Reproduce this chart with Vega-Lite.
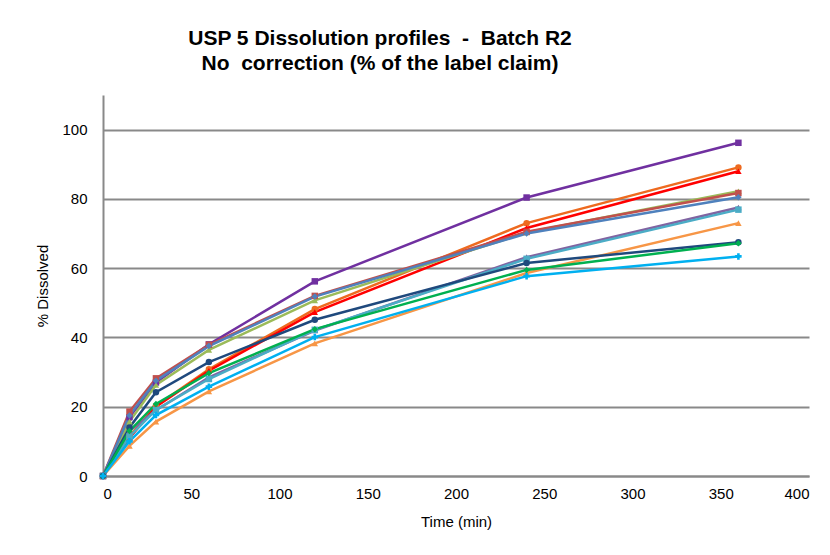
{
  "$schema": "https://vega.github.io/schema/vega-lite/v6.json",
  "width": 706,
  "height": 381,
  "autosize": "none",
  "padding": {"left": 103, "top": 95, "right": 21, "bottom": 79},
  "background": "white",
  "title": {
    "text": ["USP 5 Dissolution profiles \u00a0-\u00a0 Batch R2", "No \u00a0correction (% of the label claim)"],
    "font": "Liberation Sans",
    "fontSize": 21,
    "fontWeight": "bold",
    "color": "#000000",
    "lineHeight": 25,
    "anchor": "middle",
    "dx": -76,
    "offset": 21
  },
  "datasets": {
    "profiles": [
      {"s": "A", "t": 0, "v": 0}, {"s": "A", "t": 15, "v": 17}, {"s": "A", "t": 30, "v": 27}, {"s": "A", "t": 60, "v": 38}, {"s": "A", "t": 120, "v": 56.2}, {"s": "A", "t": 240, "v": 80.4}, {"s": "A", "t": 360, "v": 96.2},
      {"s": "B", "t": 0, "v": 0}, {"s": "B", "t": 15, "v": 11.5}, {"s": "B", "t": 30, "v": 20.2}, {"s": "B", "t": 60, "v": 30.8}, {"s": "B", "t": 120, "v": 48.2}, {"s": "B", "t": 240, "v": 73.0}, {"s": "B", "t": 360, "v": 89.1},
      {"s": "C", "t": 0, "v": 0}, {"s": "C", "t": 15, "v": 11}, {"s": "C", "t": 30, "v": 20}, {"s": "C", "t": 60, "v": 30.4}, {"s": "C", "t": 120, "v": 47.3}, {"s": "C", "t": 240, "v": 71.6}, {"s": "C", "t": 360, "v": 88.0},
      {"s": "D", "t": 0, "v": 0}, {"s": "D", "t": 15, "v": 15.7}, {"s": "D", "t": 30, "v": 26.3}, {"s": "D", "t": 60, "v": 36.4}, {"s": "D", "t": 120, "v": 50.7}, {"s": "D", "t": 240, "v": 70.3}, {"s": "D", "t": 360, "v": 82.2},
      {"s": "E", "t": 0, "v": 0}, {"s": "E", "t": 15, "v": 18.6}, {"s": "E", "t": 30, "v": 28.2}, {"s": "E", "t": 60, "v": 37.9}, {"s": "E", "t": 120, "v": 52.0}, {"s": "E", "t": 240, "v": 70.5}, {"s": "E", "t": 360, "v": 81.7},
      {"s": "F", "t": 0, "v": 0}, {"s": "F", "t": 15, "v": 17.5}, {"s": "F", "t": 30, "v": 27.5}, {"s": "F", "t": 60, "v": 37.5}, {"s": "F", "t": 120, "v": 51.8}, {"s": "F", "t": 240, "v": 70.0}, {"s": "F", "t": 360, "v": 80.5},
      {"s": "G", "t": 0, "v": 0}, {"s": "G", "t": 15, "v": 13}, {"s": "G", "t": 30, "v": 19}, {"s": "G", "t": 60, "v": 28.5}, {"s": "G", "t": 120, "v": 42}, {"s": "G", "t": 240, "v": 63.2}, {"s": "G", "t": 360, "v": 77.5},
      {"s": "H", "t": 0, "v": 0}, {"s": "H", "t": 15, "v": 11.4}, {"s": "H", "t": 30, "v": 19.1}, {"s": "H", "t": 60, "v": 28}, {"s": "H", "t": 120, "v": 42.2}, {"s": "H", "t": 240, "v": 62.7}, {"s": "H", "t": 360, "v": 76.9},
      {"s": "I", "t": 0, "v": 0}, {"s": "I", "t": 15, "v": 8.7}, {"s": "I", "t": 30, "v": 15.7}, {"s": "I", "t": 60, "v": 24.4}, {"s": "I", "t": 120, "v": 38.3}, {"s": "I", "t": 240, "v": 58.6}, {"s": "I", "t": 360, "v": 73.0},
      {"s": "J", "t": 0, "v": 0}, {"s": "J", "t": 15, "v": 14}, {"s": "J", "t": 30, "v": 24.2}, {"s": "J", "t": 60, "v": 32.9}, {"s": "J", "t": 120, "v": 45.1}, {"s": "J", "t": 240, "v": 61.5}, {"s": "J", "t": 360, "v": 67.5},
      {"s": "K", "t": 0, "v": 0}, {"s": "K", "t": 15, "v": 13}, {"s": "K", "t": 30, "v": 20.8}, {"s": "K", "t": 60, "v": 29.7}, {"s": "K", "t": 120, "v": 42.4}, {"s": "K", "t": 240, "v": 59.5}, {"s": "K", "t": 360, "v": 67.2},
      {"s": "L", "t": 0, "v": 0}, {"s": "L", "t": 15, "v": 10}, {"s": "L", "t": 30, "v": 17.6}, {"s": "L", "t": 60, "v": 25.8}, {"s": "L", "t": 120, "v": 40.1}, {"s": "L", "t": 240, "v": 57.7}, {"s": "L", "t": 360, "v": 63.4}
    ]
  },
  "data": {"name": "profiles"},
  "encoding": {
    "x": {
      "field": "t", "type": "quantitative",
      "scale": {"domain": [0, 400], "nice": false, "zero": false},
      "axis": {
        "title": "Time (min)", "values": [0, 50, 100, 150, 200, 250, 300, 350, 400],
        "grid": false, "ticks": false, "labelPadding": 10,
        "domainColor": "#898989", "domainWidth": 2,
        "labelFont": "Liberation Sans", "labelFontSize": 15, "labelColor": "#000000",
        "titleFont": "Liberation Sans", "titleFontSize": 15, "titleFontWeight": "normal", "titleColor": "#000000", "titlePadding": 13
      }
    },
    "y": {
      "field": "v", "type": "quantitative",
      "scale": {"domain": [0, 110], "nice": false},
      "axis": {
        "title": "% Dissolved", "values": [0, 20, 40, 60, 80, 100],
        "grid": true, "gridColor": "#898989", "gridWidth": 2,
        "ticks": false, "labelPadding": 16,
        "domainColor": "#898989", "domainWidth": 2,
        "labelFont": "Liberation Sans", "labelFontSize": 15, "labelColor": "#000000",
        "titleFont": "Liberation Sans", "titleFontSize": 15, "titleFontWeight": "normal", "titleColor": "#000000", "titlePadding": 11
      }
    },
    "color": {
      "field": "s", "type": "nominal", "legend": null,
      "scale": {
        "domain": ["A", "B", "C", "D", "E", "F", "G", "H", "I", "J", "K", "L"],
        "range": ["#7030A0", "#EE6A1F", "#FF0000", "#9BBB59", "#C0504D", "#4F81BD", "#8064A2", "#4BACC6", "#F79646", "#1F497D", "#00B050", "#00B0F0"]
      }
    }
  },
  "layer": [
    {"mark": {"type": "line", "strokeWidth": 2.5}},
    {
      "mark": {"type": "point", "filled": true, "size": 42, "opacity": 1},
      "encoding": {
        "shape": {
          "field": "s", "type": "nominal", "legend": null,
          "scale": {
            "domain": ["A", "B", "C", "D", "E", "F", "G", "H", "I", "J", "K", "L"],
            "range": ["square", "circle", "triangle-up", "triangle-up", "square", "diamond", "triangle-up", "square", "triangle-up", "circle", "diamond", "cross"]
          }
        }
      }
    }
  ],
  "config": {"view": {"stroke": null}}
}
